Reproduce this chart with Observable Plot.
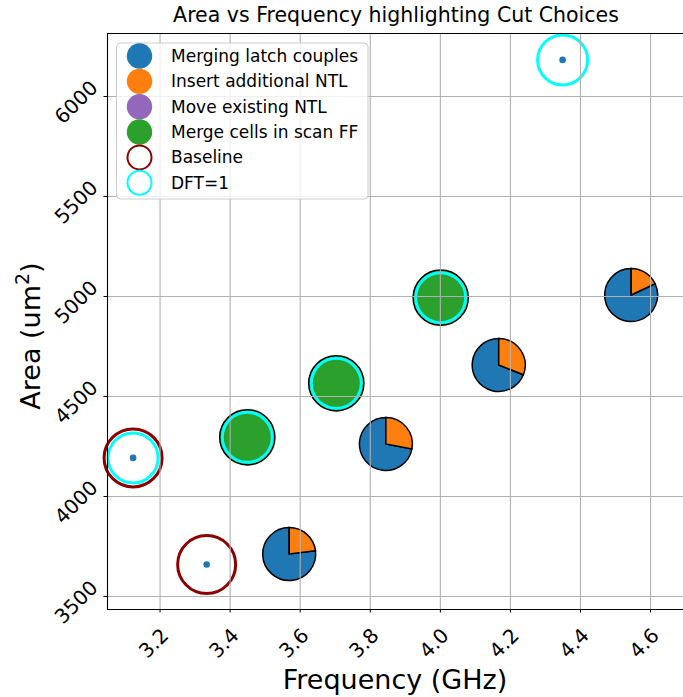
<!DOCTYPE html>
<html><head><meta charset="utf-8">
<script src="https://cdn.jsdelivr.net/npm/d3@7"></script>
<script src="https://cdn.jsdelivr.net/npm/@observablehq/plot@0.6"></script>
<style>
body{margin:0;background:#fff;}
svg{font-family:"DejaVu Sans",sans-serif;}
</style>
</head><body><div id="chart"></div>
<script>
// ---- data ----
const xTicks = [3.2, 3.4, 3.6, 3.8, 4.0, 4.2, 4.4, 4.6];
const yTicks = [3500, 4000, 4500, 5000, 5500, 6000];
const xDomain = [3.05, 4.694];
const yDomain = [3435, 6315];

const pieFreq = [3.57, 3.846, 4.168, 4.546];
const pieArea = [3710, 4260, 4655, 5005];
const pieOrangeShare = [0.23, 0.28, 0.31, 0.18];

const scanFreq = [3.449, 3.703, 4.001];
const scanArea = [4296, 4566, 4994];

const baselineFreq = [3.123, 3.333];
const baselineArea = [4193, 3660];

const dftFreq = [3.123, 3.449, 3.703, 4.001, 4.349];
const dftArea = [4193, 4296, 4566, 4994, 6183];

const dotFreq = [3.123, 3.333, 4.349];
const dotArea = [4193, 3660, 6183];

const legendLabels = ["Merging latch couples", "Insert additional NTL", "Move existing NTL", "Merge cells in scan FF", "Baseline", "DFT=1"];
const legendColors = ["#1f77b4", "#ff7f0e", "#9467bd", "#2ca02c", "#8b0000", "#00ffff"];
const legendFilled = [true, true, true, true, false, false];

const titleText = "Area vs Frequency highlighting Cut Choices";
const xLabel = "Frequency (GHz)";

// ---- tables ----
const pies = pieFreq.map((f, i) => ({freq: f, area: pieArea[i], share: pieOrangeShare[i]}));
const scans = scanFreq.map((f, i) => ({freq: f, area: scanArea[i]}));
const baselines = baselineFreq.map((f, i) => ({freq: f, area: baselineArea[i]}));
const dfts = dftFreq.map((f, i) => ({freq: f, area: dftArea[i]}));
const dots = dotFreq.map((f, i) => ({freq: f, area: dotArea[i]}));

function pieMark(index, scales) {
  const g = d3.create("svg:g");
  const arc = d3.arc().innerRadius(0).outerRadius(26.5);
  for (const d of pies) {
    const cx = scales.x(d.freq), cy = scales.y(d.area);
    const a = 2 * Math.PI * d.share;
    g.append("path").attr("transform", `translate(${cx},${cy})`)
      .attr("d", arc({startAngle: a, endAngle: 2 * Math.PI}))
      .attr("fill", legendColors[0]).attr("stroke", "black").attr("stroke-width", 1.5).attr("stroke-linejoin", "miter");
    g.append("path").attr("transform", `translate(${cx},${cy})`)
      .attr("d", arc({startAngle: 0, endAngle: a}))
      .attr("fill", legendColors[1]).attr("stroke", "black").attr("stroke-width", 1.5).attr("stroke-linejoin", "miter");
  }
  return g.node();
}

const fs = {fontFamily: "DejaVu Sans", fill: "black"};

const chart = Plot.plot({
  width: 683, height: 697,
  marginLeft: 107, marginRight: 0, marginTop: 33, marginBottom: 88,
  style: {color: "black", background: "white", fontFamily: "DejaVu Sans"},
  x: {domain: xDomain, ticks: xTicks, tickSize: 3.5, tickFormat: () => "", label: null},
  y: {domain: yDomain, ticks: yTicks, tickSize: 3.5, tickFormat: () => "", label: null},
  marks: [
    pieMark,
    Plot.dot(scans, {x: "freq", y: "area", r: 27.6, fill: legendColors[3], stroke: "black", strokeWidth: 1.5}),
    Plot.dot(dfts, {x: "freq", y: "area", r: 25, fill: "none", stroke: legendColors[5], strokeWidth: 3}),
    Plot.dot(baselines, {x: "freq", y: "area", r: 29, fill: "none", stroke: legendColors[4], strokeWidth: 3}),
    Plot.dot(dots, {x: "freq", y: "area", r: 3.3, fill: legendColors[0], stroke: "none"}),
    Plot.ruleX(xTicks, {stroke: "#b0b0b0", strokeWidth: 1.1}),
    Plot.ruleY(yTicks, {stroke: "#b0b0b0", strokeWidth: 1.1}),
    Plot.ruleX([xDomain[0]], {stroke: "black", strokeWidth: 1.1}),
    Plot.ruleY([yDomain[0], yDomain[1]], {stroke: "black", strokeWidth: 1.1}),
    Plot.text(xTicks, {x: d => d, frameAnchor: "bottom", text: d => d.toFixed(1), rotate: -45,
      textAnchor: "middle", lineAnchor: "middle", dx: -6, dy: 34, fontSize: 20, ...fs}),
    Plot.text(yTicks, {y: d => d, frameAnchor: "left", text: d => String(d), rotate: -45,
      textAnchor: "middle", lineAnchor: "middle", dx: -31, dy: 6, fontSize: 20, ...fs})
  ]
});

const svg = d3.select(chart);
// title and axis labels
svg.append("text").attr("x", 396).attr("y", 22).attr("text-anchor", "middle")
  .attr("font-size", 20.5).attr("fill", "black").text(titleText);
svg.append("text").attr("x", 395).attr("y", 689).attr("text-anchor", "middle")
  .attr("font-size", 27).attr("fill", "black").text(xLabel);
const yl = svg.append("text").attr("transform", "translate(40,336) rotate(-90)").attr("text-anchor", "middle")
  .attr("font-size", 27).attr("fill", "black");
yl.append("tspan").text("Area (um");
yl.append("tspan").attr("font-size", 19).attr("dy", -11).text("2");
yl.append("tspan").attr("dy", 11).text(")");

// legend
const lg = svg.append("g").attr("text-anchor", "start");
lg.append("rect").attr("x", 116.5).attr("y", 43).attr("width", 251.5).attr("height", 156).attr("rx", 4)
  .attr("fill", "white").attr("fill-opacity", 0.8).attr("stroke", "#cccccc").attr("stroke-width", 1);
legendLabels.forEach((lab, i) => {
  const cy = 56 + i * 25.35;
  if (legendFilled[i]) {
    lg.append("circle").attr("cx", 139.5).attr("cy", cy).attr("r", 12.7).attr("fill", legendColors[i]);
  } else {
    lg.append("circle").attr("cx", 139.5).attr("cy", cy).attr("r", 12).attr("fill", "none")
      .attr("stroke", legendColors[i]).attr("stroke-width", 2);
  }
  lg.append("text").attr("x", 171).attr("y", cy + 6).attr("text-anchor", "start")
    .attr("font-size", 17).attr("fill", "black").text(lab);
});

document.getElementById("chart").appendChild(chart);
</script>
</body></html>
